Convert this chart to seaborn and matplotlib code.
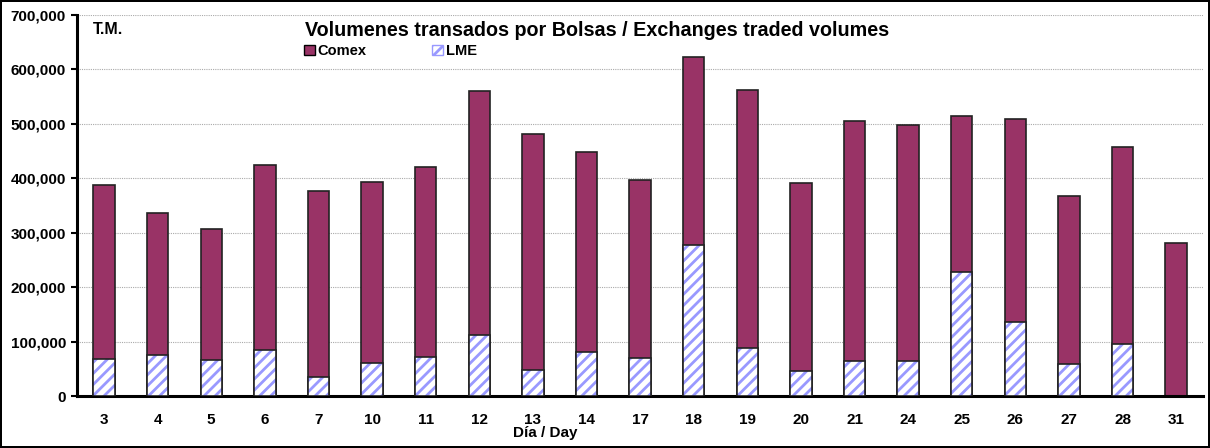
import numpy as np
import pandas as pd
import seaborn as sns
import matplotlib.pyplot as plt
from matplotlib.patches import Patch
from matplotlib.ticker import FuncFormatter, MultipleLocator

days = ["3", "4", "5", "6", "7", "10", "11", "12", "13", "14", "17",
        "18", "19", "20", "21", "24", "25", "26", "27", "28", "31"]
lme = [68000, 76000, 66000, 84000, 35000, 60000, 72000, 112000, 48000, 81000, 69000,
       277000, 88000, 46000, 65000, 65000, 228000, 136000, 59000, 96000, 0]
comex = [320000, 261000, 240000, 341000, 341000, 333000, 349000, 448000, 433000, 368000, 327000,
         346000, 474000, 345000, 441000, 433000, 286000, 373000, 309000, 361000, 282000]

df = pd.DataFrame({"day": days, "lme": lme, "comex": comex})
df["total"] = df["lme"] + df["comex"]

sns.set_style("white")
plt.rcParams["font.family"] = ["Liberation Sans", "DejaVu Sans"]
plt.rcParams["font.weight"] = "bold"
plt.rcParams["text.color"] = "black"
plt.rcParams["xtick.color"] = "black"
plt.rcParams["ytick.color"] = "black"
plt.rcParams["xtick.labelcolor"] = "black"
plt.rcParams["ytick.labelcolor"] = "black"
plt.rcParams["hatch.linewidth"] = 2.0

comex_color = "#993366"
lme_color = "#9999FF"

fig = plt.figure(figsize=(12.1, 4.48), dpi=100)
fig.patch.set_edgecolor("black")
fig.patch.set_linewidth(1.5)
ax = fig.add_axes([77.2 / 1210, 1 - 396 / 448, (1203 - 77.2) / 1210, (396 - 15) / 448])

# total height in Comex colour, LME drawn over the bottom part
sns.barplot(data=df, x="day", y="total", color=comex_color, width=0.4,
            edgecolor="#222222", linewidth=1.2, saturation=1, ax=ax, zorder=2)
sns.barplot(data=df, x="day", y="lme", color="white", width=0.4, hatch="///",
            edgecolor=lme_color, linewidth=0, saturation=1, ax=ax, zorder=3)
sns.barplot(data=df, x="day", y="lme", fill=False, width=0.4,
            edgecolor="#222222", linewidth=1.2, ax=ax, zorder=4)
for p in ax.patches[-len(days):]:
    if p.get_height() == 0:
        p.set_visible(False)

ax.set_ylim(0, 700000)
ax.set_xlim(-0.5, len(days) - 0.5)
ax.yaxis.set_major_locator(MultipleLocator(100000))
ax.yaxis.set_major_formatter(FuncFormatter(lambda v, _: f"{int(v):,}"))
ax.grid(axis="y", color="#aaaaaa", linestyle=(0, (1, 1)), linewidth=0.8, zorder=0)
ax.set_axisbelow(True)

for s in ["top", "right"]:
    ax.spines[s].set_visible(False)
ax.spines["left"].set_linewidth(2.2)
ax.spines["bottom"].set_linewidth(2.2)
ax.spines["left"].set_color("black")
ax.spines["bottom"].set_color("black")

ax.set_xticks(np.arange(len(days)))
ax.set_xticklabels(days)
ax.set_xticks(np.arange(len(days) - 1) + 0.5, minor=True)
ax.tick_params(axis="x", which="major", length=0, pad=12, labelsize=11)
ax.tick_params(axis="x", which="minor", direction="in", length=4, width=1.5, color="black")
ax.tick_params(axis="y", which="major", direction="out", length=4, width=1.5, color="black",
               labelsize=11, left=True, pad=4)
for lab in ax.get_xticklabels() + ax.get_yticklabels():
    lab.set_fontweight("bold")
ax.set_xlabel("")
ax.set_ylabel("")

fig.text(93 / 1210, 1 - 30 / 448, "T.M.", fontsize=11.5, fontweight="bold", va="center", ha="left")
fig.text(305 / 1210, 1 - 30 / 448, "Volumenes transados por Bolsas / Exchanges traded volumes",
         fontsize=14.2, fontweight="bold", va="center", ha="left")
fig.text(545 / 1210, 1 - 433 / 448, "Día / Day", fontsize=11, fontweight="bold",
         va="center", ha="center")

handles = [Patch(facecolor=comex_color, edgecolor="black", linewidth=1, label="Comex"),
           Patch(facecolor="white", edgecolor=lme_color, hatch="///", linewidth=1, label="LME")]
leg = fig.legend(handles=handles, ncol=2, frameon=False, loc="center left",
                 bbox_to_anchor=(304 / 1210, 1 - 51 / 448), handlelength=0.75, handleheight=0.75,
                 handletextpad=0.2, columnspacing=4.5, fontsize=10.5, borderaxespad=0, borderpad=0)
for t in leg.get_texts():
    t.set_fontweight("bold")

plt.savefig("out.png", dpi=100)
